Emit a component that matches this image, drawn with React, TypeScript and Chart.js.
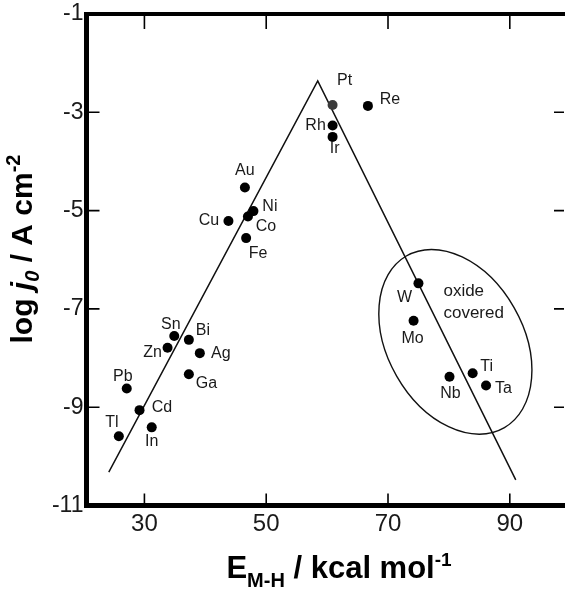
import React, { useEffect, useRef } from "react";
import { Chart, registerables } from "chart.js";

Chart.register(...registerables);

// ---------- data ----------
const METALS = ["Pt", "Re", "Rh", "Ir", "Au", "Ni", "Co", "Cu", "Fe", "Sn", "Bi", "Zn", "Ag", "Ga", "Pb", "Cd", "In", "Tl", "W", "Mo", "Nb", "Ti", "Ta"];
const E_MH = [60.9, 66.7, 60.9, 60.9, 46.5, 47.9, 47.0, 43.8, 46.7, 34.9, 37.3, 33.8, 39.1, 37.3, 27.1, 29.2, 31.2, 25.8, 75.0, 74.2, 80.1, 83.9, 86.1];
const LOG_J0 = [-2.85, -2.87, -3.27, -3.5, -4.53, -5.01, -5.12, -5.21, -5.56, -7.55, -7.63, -7.79, -7.9, -8.33, -8.62, -9.06, -9.41, -9.59, -6.48, -7.24, -8.38, -8.31, -8.56];

const VOLCANO_X = [24.15, 58.46, 90.98];
const VOLCANO_Y = [-10.32, -2.36, -10.48];

const X_TICKS = [30, 50, 70, 90];
const Y_TICKS = [-11, -9, -7, -5, -3, -1];

// annotation: oxide-covered ellipse (center + conjugate semi-axis vectors, data units)
const ELLIPSE_CENTER = { x: 81.06, y: -7.67 };
const ELLIPSE_U = { x: 8.06, y: -1.746 };
const ELLIPSE_V = { x: -9.64, y: -0.697 };
const OXIDE_TEXT = ["oxide", "covered"];
const OXIDE_POS = [{ x: 79.1, y: -6.64 }, { x: 79.1, y: -7.09 }];

// ---------- styles ----------
const LABEL_DX = [12, 22, -17, 2, 0, 16.5, 18, -19.5, 12, -3.5, 14, -15, 21, 17.5, -4, 22.5, 0, -7, -14, -1, 1, 14, 17.5];
const LABEL_DY = [-24, -6, 0, 12, -17, -4.5, 10, 0, 15, -11, -9, 5, 0, 9, -12, -3, 14, -13.5, 14, 18, 17, -7, 3];
const FONT = "'Liberation Sans', Arial, Helvetica, sans-serif";

type Seg = { t: string; f: string; dy: number };
function drawRich(ctx: CanvasRenderingContext2D, segs: Seg[], cx: number, by: number) {
  const widths = segs.map((s) => {
    ctx.font = s.f;
    return ctx.measureText(s.t).width;
  });
  const total = widths.reduce((a, b) => a + b, 0);
  let x = cx - total / 2;
  ctx.textAlign = "left";
  ctx.textBaseline = "alphabetic";
  segs.forEach((s, i) => {
    ctx.font = s.f;
    ctx.fillText(s.t, x, by + s.dy);
    x += widths[i];
  });
}

const decorPlugin = {
  id: "decor",
  beforeDatasetsDraw(chart: any) {
    const { ctx } = chart;
    const xs = chart.scales.x;
    const ys = chart.scales.y;
    const cx = xs.getPixelForValue(ELLIPSE_CENTER.x);
    const cy = ys.getPixelForValue(ELLIPSE_CENTER.y);
    const ux = xs.getPixelForValue(ELLIPSE_CENTER.x + ELLIPSE_U.x) - cx;
    const uy = ys.getPixelForValue(ELLIPSE_CENTER.y + ELLIPSE_U.y) - cy;
    const vx = xs.getPixelForValue(ELLIPSE_CENTER.x + ELLIPSE_V.x) - cx;
    const vy = ys.getPixelForValue(ELLIPSE_CENTER.y + ELLIPSE_V.y) - cy;
    ctx.save();
    ctx.beginPath();
    ctx.save();
    ctx.transform(ux, uy, vx, vy, cx, cy);
    ctx.arc(0, 0, 1, 0, Math.PI * 2);
    ctx.restore();
    ctx.lineWidth = 1.4;
    ctx.strokeStyle = "#111";
    ctx.stroke();
    ctx.restore();
  },
  afterDatasetsDraw(chart: any) {
    const { ctx } = chart;
    const xs = chart.scales.x;
    const ys = chart.scales.y;
    ctx.save();
    ctx.fillStyle = "#1a1a1a";
    ctx.font = `16px ${FONT}`;
    ctx.textAlign = "center";
    ctx.textBaseline = "middle";
    METALS.forEach((m, i) => {
      const px = xs.getPixelForValue(E_MH[i]) + LABEL_DX[i];
      const py = ys.getPixelForValue(LOG_J0[i]) + LABEL_DY[i];
      ctx.fillText(m, px, py);
    });
    ctx.font = `17px ${FONT}`;
    ctx.textAlign = "left";
    OXIDE_TEXT.forEach((t, i) => {
      ctx.fillText(t, xs.getPixelForValue(OXIDE_POS[i].x), ys.getPixelForValue(OXIDE_POS[i].y));
    });
    ctx.restore();
  },
  afterDraw(chart: any) {
    const { ctx, chartArea } = chart;
    const xs = chart.scales.x;
    const ys = chart.scales.y;
    ctx.save();
    ctx.strokeStyle = "#000";
    ctx.lineWidth = 1.6;
    ctx.beginPath();
    X_TICKS.forEach((v) => {
      const px = xs.getPixelForValue(v);
      ctx.moveTo(px, chartArea.bottom);
      ctx.lineTo(px, chartArea.bottom - 12);
      ctx.moveTo(px, chartArea.top);
      ctx.lineTo(px, chartArea.top + 15);
    });
    Y_TICKS.forEach((v) => {
      const py = ys.getPixelForValue(v);
      ctx.moveTo(chartArea.left, py);
      ctx.lineTo(chartArea.left + 13, py);
      ctx.moveTo(chartArea.right, py);
      ctx.lineTo(chartArea.right - 10, py);
    });
    ctx.stroke();

    ctx.fillStyle = "#000";
    // x title
    drawRich(
      ctx,
      [
        { t: "E", f: `bold 31px ${FONT}`, dy: 0 },
        { t: "M-H", f: `bold 20px ${FONT}`, dy: 9 },
        { t: " / kcal mol", f: `bold 31px ${FONT}`, dy: 0 },
        { t: "-1", f: `bold 19px ${FONT}`, dy: -12 },
      ],
      339,
      578
    );
    // y title
    ctx.translate(32, 249);
    ctx.rotate(-Math.PI / 2);
    drawRich(
      ctx,
      [
        { t: "log ", f: `bold 30px ${FONT}`, dy: 0 },
        { t: "j", f: `italic bold 30px ${FONT}`, dy: 0 },
        { t: "0", f: `italic bold 20px ${FONT}`, dy: 7 },
        { t: " / A cm", f: `bold 30px ${FONT}`, dy: 0 },
        { t: "-2", f: `bold 20px ${FONT}`, dy: -12 },
      ],
      0,
      0
    );
    ctx.restore();
  },
};

const bgPlugin = {
  id: "bg",
  beforeDraw(chart: any) {
    const { ctx, width, height } = chart;
    ctx.save();
    ctx.fillStyle = "#fff";
    ctx.fillRect(0, 0, width, height);
    ctx.restore();
  },
};

function fixSize(w: number | null, h: number | null) {
  return (scale: any) => {
    if (w !== null) scale.width = w;
    if (h !== null) scale.height = h;
    scale.paddingTop = 0;
    scale.paddingBottom = 0;
    scale.paddingLeft = 0;
    scale.paddingRight = 0;
  };
}

export default function App() {
  const ref = useRef<HTMLCanvasElement | null>(null);
  useEffect(() => {
    if (!ref.current) return;
    const points = E_MH.map((x, i) => ({ x, y: LOG_J0[i] }));
    const volcano = VOLCANO_X.map((x, i) => ({ x, y: VOLCANO_Y[i] }));
    const chart = new Chart(ref.current, {
      type: "scatter",
      data: {
        datasets: [
          {
            label: "metals",
            data: points,
            pointRadius: 5,
            pointHoverRadius: 5,
            pointBackgroundColor: METALS.map((m) => (m === "Pt" ? "#3a3a3a" : "#000")),
            pointBorderWidth: 0,
            borderWidth: 0,
          },
          {
            label: "volcano",
            data: volcano,
            showLine: true,
            pointRadius: 0,
            borderColor: "#111",
            borderWidth: 1.5,
          },
        ],
      },
      options: {
        animation: false,
        responsive: false,
        devicePixelRatio: 1,
        layout: { padding: 0 },
        plugins: { legend: { display: false }, tooltip: { enabled: false } },
        scales: {
          x: {
            type: "linear",
            position: "bottom",
            min: 20.49,
            max: 98.9,
            afterBuildTicks: (s: any) => {
              s.ticks = X_TICKS.map((v) => ({ value: v }));
            },
            afterFit: fixSize(null, 84.5),
            grid: { display: false, drawTicks: false },
            border: { display: true, width: 5, color: "#000" },
            ticks: { color: "#1a1a1a", padding: 4, font: { size: 24, family: FONT }, maxRotation: 0 },
          },
          x2: {
            type: "linear",
            position: "top",
            min: 20.49,
            max: 98.9,
            afterFit: fixSize(null, 14),
            grid: { display: false, drawTicks: false },
            border: { display: true, width: 4, color: "#000" },
            ticks: { display: false },
          },
          y: {
            type: "linear",
            min: -11,
            max: -1,
            afterBuildTicks: (s: any) => {
              s.ticks = Y_TICKS.map((v) => ({ value: v }));
            },
            afterFit: fixSize(86.5, null),
            grid: { display: false, drawTicks: false },
            border: { display: true, width: 5, color: "#000" },
            ticks: { color: "#1a1a1a", padding: 3, font: { size: 23, family: FONT } },
          },
        },
      },
      plugins: [bgPlugin, decorPlugin],
    } as any);
    return () => chart.destroy();
  }, []);
  return (
    <div style={{ position: "fixed", left: 0, top: 0, width: 569, height: 590, background: "#fff" }}>
      <canvas ref={ref} width={569} height={590} style={{ display: "block", width: 569, height: 590 }} />
    </div>
  );
}
